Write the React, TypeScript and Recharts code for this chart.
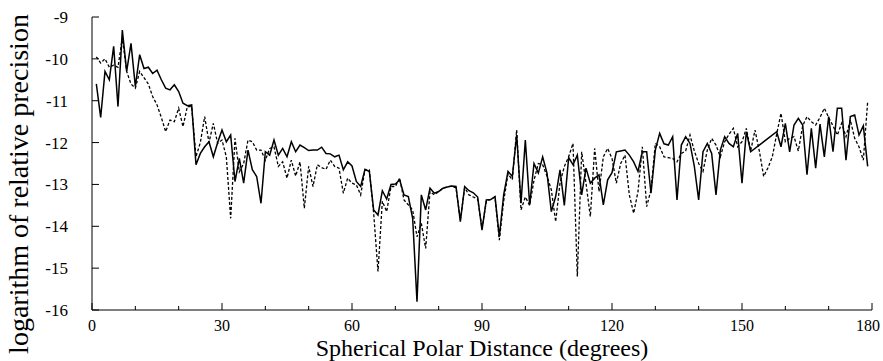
import { LineChart, Line, XAxis, YAxis } from "recharts";

// degrees of spherical polar distance, one sample per degree
const degrees = Array.from({ length: 179 }, (_, i) => i + 1);

// solid curve (gap 153-157 is drawn as a straight segment in the original)
const solidPrecision: (number | null)[] = [
  -10.6, -11.4, -10.3, -10.5, -9.7, -11.14, -9.31, -10.3, -9.63, -10.66,
  -9.9, -10.23, -10.2, -10.35, -10.27, -10.5, -10.7, -10.74, -10.62, -10.78,
  -11.06, -11.12, -11.1, -12.53, -12.26, -12.1, -11.98, -12.34, -12.0, -11.7,
  -11.98, -11.82, -12.93, -12.38, -12.97, -12.18, -12.65, -12.81, -13.45, -12.22,
  -12.3, -11.94, -12.3, -12.14, -12.34, -11.98, -12.22, -12.06, -12.12, -12.19,
  -12.18, -12.18, -12.11, -12.26, -12.27, -12.34, -12.3, -12.65, -12.46, -12.56,
  -12.93, -13.05, -12.64, -12.69, -13.61, -13.73, -13.15, -13.35, -13.0, -12.99,
  -12.89, -13.25, -13.29, -13.81, -15.8, -13.25, -13.61, -13.09, -13.21, -13.17,
  -13.09, -13.06, -13.04, -13.05, -13.89, -13.05, -13.15, -13.2, -13.3, -14.09,
  -13.37, -13.36, -13.29, -14.25, -13.25, -12.69, -12.81, -11.82, -13.45, -11.94,
  -13.49, -12.5, -12.73, -12.34, -12.73, -13.65, -13.29, -12.65, -13.5, -12.36,
  -12.53, -12.3, -13.25, -12.61, -12.97, -12.85, -12.77, -13.49, -12.89, -12.72,
  -12.22, -12.2, -12.18, -12.3, -12.46, -12.69, -12.22, -12.22, -13.21, -12.18,
  -11.78, -12.03, -12.06, -11.86, -13.37, -12.06, -11.86, -12.02, -12.57, -13.37,
  -12.22, -12.02, -12.26, -13.25, -12.18, -11.86, -12.02, -12.1, -11.78, -12.97,
  -11.74, -12.22, null, null, null, null, null, -11.74, -12.1, -11.54,
  -12.22, -11.58, -11.42, -11.58, -12.77, -11.66, -12.61, -11.56, -12.34, -11.38,
  -12.22, -11.18, -11.18, -12.42, -11.38, -11.34, -11.82, -11.6, -12.57,
];

// dashed curve
const dashedPrecision: number[] = [
  -9.95, -10.1, -10.0, -10.2, -10.15, -10.2, -9.5, -10.3, -10.6, -10.7,
  -10.3, -10.45, -10.6, -10.9, -11.1, -11.4, -11.74, -11.46, -11.5, -11.18,
  -11.62, -11.14, -11.14, -12.34, -12.0, -11.38, -12.0, -11.54, -12.02, -11.94,
  -12.34, -13.81, -11.9, -12.7, -12.5, -11.94, -11.98, -12.18, -12.18, -12.42,
  -12.14, -12.1, -12.57, -12.46, -12.85, -12.42, -12.8, -12.46, -13.57, -12.57,
  -13.05, -12.53, -12.6, -12.64, -12.42, -12.57, -12.61, -13.21, -12.85, -12.97,
  -13.01, -13.25, -12.65, -12.65, -13.69, -15.08, -13.4, -13.65, -13.05, -13.05,
  -12.85, -13.37, -13.49, -13.61, -14.25, -13.93, -14.53, -13.17, -13.25, -13.17,
  -13.09, -13.06, -13.04, -13.08, -13.85, -13.08, -13.25, -13.3, -13.35, -14.05,
  -13.4, -13.36, -13.3, -14.33, -13.4, -12.75, -12.89, -11.7, -13.61, -13.3,
  -13.5, -12.9, -12.5, -12.53, -12.8, -13.13, -13.89, -12.97, -12.57, -12.34,
  -12.02, -15.2, -12.22, -12.97, -13.77, -12.14, -13.17, -12.34, -12.14, -12.38,
  -12.97, -12.5, -12.3, -13.25, -13.69, -13.17, -12.1, -13.53, -13.13, -12.02,
  -12.1, -12.34, -12.36, -12.38, -12.46, -12.26, -12.2, -11.82, -12.2, -12.5,
  -12.69, -12.18, -11.9, -12.06, -12.34, -11.98, -11.8, -11.66, -12.1, -11.98,
  -11.66, -12.2, -11.7, -12.2, -12.81, -12.6, -12.34, -11.8, -11.3, -11.98,
  -11.9, -11.86, -12.2, -11.6, -11.38, -11.5, -11.58, -11.4, -11.18, -11.4,
  -11.6, -11.82, -11.54, -11.86, -11.46, -11.9, -12.1, -12.42, -11.02,
];

const xTicks = [0, 10, 20, 30, 40, 50, 60, 70, 80, 90, 100, 110, 120, 130, 140, 150, 160, 170, 180];
const yTicks = [-16, -15, -14, -13, -12, -11, -10, -9];

const FONT = '"Liberation Serif", "Times New Roman", serif';

const table = degrees.map((d, i) => ({
  deg: d,
  solid: solidPrecision[i],
  dashed: dashedPrecision[i],
}));

function BottomTick({ x, y, payload }: any) {
  const major = payload.value % 30 === 0;
  // last label sits a little inside so it isn't clipped by the page edge
  const labelX = payload.value === 180 ? x - 4 : x;
  return (
    <g>
      <line x1={x} x2={x} y1={y} y2={y - (major ? 7 : 4)} stroke="#000" />
      {major && (
        <text x={labelX} y={y + 21} textAnchor="middle" fontSize={16} fontFamily={FONT} fill="#000">
          {payload.value}
        </text>
      )}
    </g>
  );
}

function TopTick({ x, y, payload }: any) {
  const major = payload.value % 30 === 0;
  return <line x1={x} x2={x} y1={y} y2={y + (major ? 7 : 4)} stroke="#000" />;
}

function LeftTick({ x, y, payload }: any) {
  return (
    <g>
      <line x1={x} x2={x + 7} y1={y} y2={y} stroke="#000" />
      <text x={x - 24} y={y + 6} textAnchor="end" fontSize={17} fontFamily={FONT} fill="#000">
        {payload.value}
      </text>
    </g>
  );
}

function RightTick({ x, y }: any) {
  return <line x1={x} x2={x - 7} y1={y} y2={y} stroke="#000" />;
}

const yTitle = () => (
  <text
    x={28}
    y={184}
    transform="rotate(-90 28 184)"
    textAnchor="middle"
    fontSize={28}
    fontFamily={FONT}
    fill="#000"
  >
    logarithm of relative precision
  </text>
);

const xTitle = () => (
  <text x={482} y={355.5} textAnchor="middle" fontSize={24} fontFamily={FONT} fill="#000">
    Spherical Polar Distance (degrees)
  </text>
);

export default function App() {
  return (
    <div style={{ position: "absolute", left: 0, top: 0, background: "#fff" }}>
      <LineChart
        width={883}
        height={361}
        data={table}
        margin={{ top: 17, right: 11, bottom: 0, left: 0 }}
      >
        <XAxis
          dataKey="deg"
          type="number"
          domain={[0, 180]}
          ticks={xTicks}
          height={51}
          tickSize={0}
          tickMargin={0}
          tick={<BottomTick />}
          axisLine={{ stroke: "#000" }}
          tickLine={false}
          interval={0}
          label={{ content: xTitle }}
        />
        <XAxis
          xAxisId="top"
          orientation="top"
          dataKey="deg"
          type="number"
          domain={[0, 180]}
          ticks={xTicks}
          height={0}
          tickSize={0}
          tickMargin={0}
          tick={<TopTick />}
          axisLine={{ stroke: "#000" }}
          tickLine={false}
          interval={0}
        />
        <YAxis
          type="number"
          domain={[-16, -9]}
          ticks={yTicks}
          width={92}
          tickSize={0}
          tickMargin={0}
          tick={<LeftTick />}
          axisLine={{ stroke: "#000" }}
          tickLine={false}
          interval={0}
          label={{ content: yTitle }}
        />
        <YAxis
          yAxisId="right"
          orientation="right"
          type="number"
          domain={[-16, -9]}
          ticks={yTicks}
          width={0}
          tickSize={0}
          tickMargin={0}
          tick={<RightTick />}
          axisLine={{ stroke: "#000" }}
          tickLine={false}
          interval={0}
        />
        <Line
          type="linear"
          dataKey="dashed"
          stroke="#000"
          strokeWidth={1.3}
          strokeDasharray="3 2"
          dot={false}
          isAnimationActive={false}
        />
        <Line
          type="linear"
          dataKey="solid"
          stroke="#000"
          strokeWidth={1.5}
          dot={false}
          connectNulls
          isAnimationActive={false}
        />
      </LineChart>
    </div>
  );
}
